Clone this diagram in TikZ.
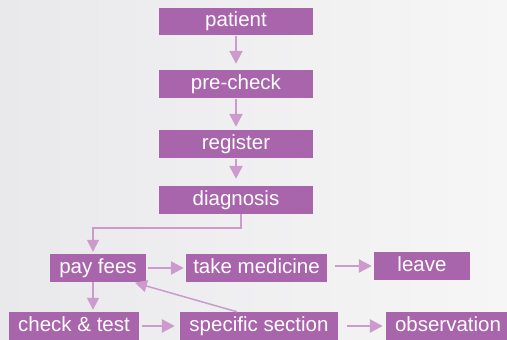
\documentclass[tikz,border=0pt]{standalone}
\usepackage{fontspec}
\setmainfont{Liberation Sans}
\usetikzlibrary{arrows.meta,calc}
\definecolor{boxpurple}{HTML}{A865AB}
\definecolor{arrowpurple}{HTML}{CC9ACC}
\definecolor{bgleft}{HTML}{E9E9EC}
\definecolor{bgright}{HTML}{F6F6F6}
\begin{document}
\begin{tikzpicture}[x=1pt,y=-1pt,
  stepbox/.style={rectangle, fill=boxpurple, text=white, inner sep=0pt,
    minimum height=28pt, text height=14.5pt, text depth=4.5pt,
    font=\fontsize{20.5}{24}\selectfont},
  flow/.style={draw=arrowpurple, line width=2.5pt, -{Triangle[length=13pt,width=13pt]}},
  thinflow/.style={draw=arrowpurple, line width=1.5pt, -{Triangle[length=12pt,width=12pt]}}]
\useasboundingbox (0,0) rectangle (507,340);
\shade[left color=bgleft, right color=bgright] (0,0) rectangle (507,340);
\begin{scope}
\clip (0,0) rectangle (507,340);
\node[stepbox, minimum width=154pt, minimum height=27pt] (patient) at (236,21.5) {patient};
\node[stepbox, minimum width=154pt] (precheck) at (236,84) {pre-check};
\node[stepbox, minimum width=154pt] (register) at (236,144) {register};
\node[stepbox, minimum width=154pt] (diagnosis) at (236,200) {diagnosis};
\node[stepbox, minimum width=96pt] (payfees) at (98,268) {pay fees};
\node[stepbox, minimum width=141pt] (takemed) at (256.5,268) {take medicine};
\node[stepbox, minimum width=96pt] (leave) at (422,266) {leave};
\node[stepbox, minimum width=130pt] (check) at (74,326) {check \& test};
\node[stepbox, minimum width=158pt] (specific) at (259,326) {specific section};
\node[stepbox, minimum width=124pt] (observation) at (448,326) {observation};
\end{scope}
\draw[flow, shorten <=1pt, shorten >=6pt] (patient) -- (precheck);
\draw[flow, shorten <=1pt, shorten >=3pt] (precheck) -- (register);
\draw[flow, shorten <=1pt, shorten >=7pt] (register) -- (diagnosis);
\draw[thinflow, shorten >=2pt] ([xshift=5pt]diagnosis.south) -- ++(0,14) -| ([xshift=-5pt]payfees.north);
\draw[flow, shorten <=2pt, shorten >=2pt] (payfees) -- (takemed);
\draw[flow, shorten <=8pt, shorten >=2pt] (takemed.east |- leave) -- (leave);
\draw[thinflow, shorten >=2pt] ([xshift=-5pt]payfees.south) -- ([xshift=-5pt]payfees.south |- check.north);
\draw[flow, shorten <=3pt, shorten >=5pt] (check) -- (specific);
\draw[flow, shorten <=9pt, shorten >=3pt] (specific) -- (observation);
\draw[thinflow, shorten >=2pt] ([xshift=-22pt]specific.north) -- ([xshift=35pt]payfees.south);
\end{tikzpicture}
\end{document}
